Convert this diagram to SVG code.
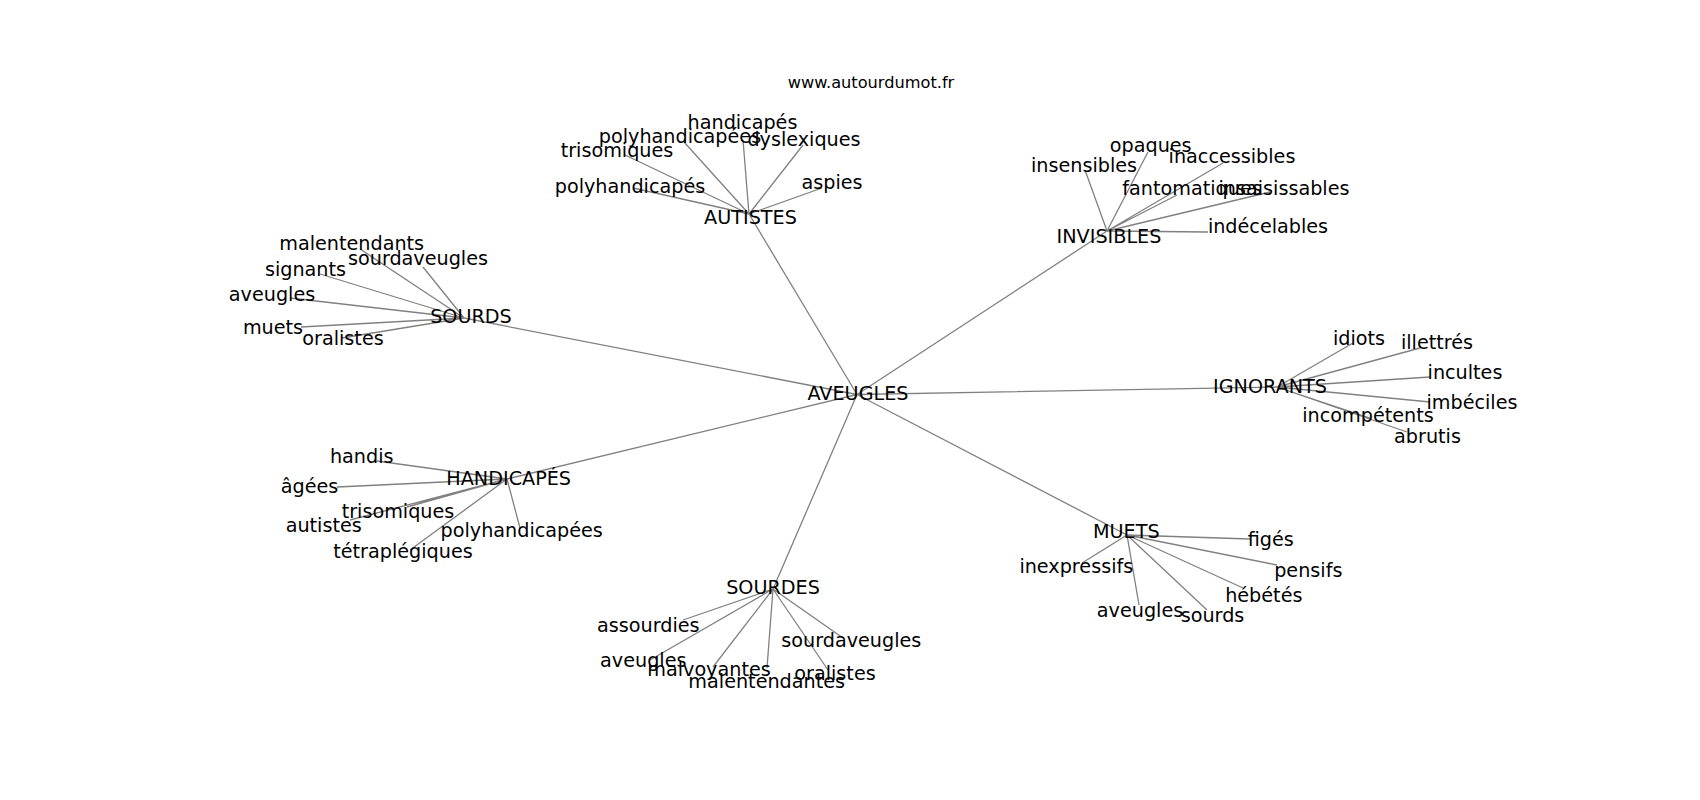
<svg xmlns="http://www.w3.org/2000/svg" width="1700" height="800" viewBox="0 0 1700 800">
<style>
.e{stroke:#808080;stroke-width:1.3;fill:none}
text{font-family:"DejaVu Sans","Liberation Sans",sans-serif;font-size:19.2px;fill:#000;text-anchor:middle}
.t{font-size:16.2px}
</style>
<rect width="1700" height="800" fill="#fff"/>
<g id="connectors">
<path class="e" d="M857 394.5L749 214M857 394.5L1107 231M857 394.5L464 318M857 394.5L1277 387M857 394.5L507 479M857 394.5L1127 535M857 394.5L773 589"/>
<path class="e" d="M749 214L743 140M749 214L684 142M749 214L803 145M749 214L625 155M749 214L633 188M749 214L822 188"/>
<path class="e" d="M1107 231L1085 170M1107 231L1148 152M1107 231L1223 163M1107 231L1177 195M1107 231L1270 192M1107 231L1208 232"/>
<path class="e" d="M464 318L360 249M464 318L423 267M464 318L320 274M464 318L290 298M464 318L301 327M464 318L342 338"/>
<path class="e" d="M1277 387L1353 343M1277 387L1420 348M1277 387L1430 377M1277 387L1430 402M1277 387L1370 418M1277 387L1407 432"/>
<path class="e" d="M507 479L377 461M507 479L337 487M507 479L407 507M507 479L350 520M507 479L520 528M507 479L410 550"/>
<path class="e" d="M1127 535L1250 539M1127 535L1082 563M1127 535L1277 565M1127 535L1243 588M1127 535L1139 605M1127 535L1207 610"/>
<path class="e" d="M773 589L683 620M773 589L650 660M773 589L713 667M773 589L767 668M773 589L828 670M773 589L843 638"/>
</g>
<text class="t" x="871" y="88">www.autourdumot.fr</text>
<g id="AVEUGLES"><text x="858" y="400">AVEUGLES</text></g>
<g id="AUTISTES"><text x="750.5" y="224">AUTISTES</text>
<text x="742.5" y="129">handicapés</text>
<text x="680" y="143">polyhandicapées</text>
<text x="804" y="146">dyslexiques</text>
<text x="617" y="157">trisomiques</text>
<text x="630" y="193">polyhandicapés</text>
<text x="832" y="189">aspies</text></g>
<g id="INVISIBLES"><text x="1109" y="242.7">INVISIBLES</text>
<text x="1150.7" y="151.7">opaques</text>
<text x="1232" y="162.7">inaccessibles</text>
<text x="1084" y="171.7">insensibles</text>
<text x="1192" y="195">fantomatiques</text>
<text x="1284" y="195">insaisissables</text>
<text x="1268" y="232.7">indécelables</text></g>
<g id="SOURDS"><text x="471" y="323">SOURDS</text>
<text x="351.7" y="250">malentendants</text>
<text x="418" y="265">sourdaveugles</text>
<text x="305.5" y="276">signants</text>
<text x="272" y="300.7">aveugles</text>
<text x="273" y="334">muets</text>
<text x="343" y="345">oralistes</text></g>
<g id="IGNORANTS"><text x="1270" y="393">IGNORANTS</text>
<text x="1359" y="345">idiots</text>
<text x="1437" y="349">illettrés</text>
<text x="1465" y="379">incultes</text>
<text x="1472" y="409">imbéciles</text>
<text x="1368" y="422">incompétents</text>
<text x="1427.5" y="443">abrutis</text></g>
<g id="HANDICAPES"><text x="508.7" y="485">HANDICAPÉS</text>
<text x="361.7" y="463.3">handis</text>
<text x="309.5" y="493.3">âgées</text>
<text x="398" y="518.3">trisomiques</text>
<text x="323.7" y="531.7">autistes</text>
<text x="521.7" y="536.7">polyhandicapées</text>
<text x="403" y="558.3">tétraplégiques</text></g>
<g id="MUETS"><text x="1126.3" y="538.3">MUETS</text>
<text x="1270.8" y="546">figés</text>
<text x="1076.3" y="573.3">inexpressifs</text>
<text x="1308.3" y="576.7">pensifs</text>
<text x="1263.8" y="601.7">hébétés</text>
<text x="1140" y="616.7">aveugles</text>
<text x="1212.5" y="621.7">sourds</text></g>
<g id="SOURDES"><text x="773" y="594">SOURDES</text>
<text x="648.3" y="632.3">assourdies</text>
<text x="851.3" y="646.7">sourdaveugles</text>
<text x="643.3" y="666.7">aveugles</text>
<text x="709" y="676">malvoyantes</text>
<text x="835" y="680">oralistes</text>
<text x="766.7" y="688.3">malentendantes</text></g>
</svg>
